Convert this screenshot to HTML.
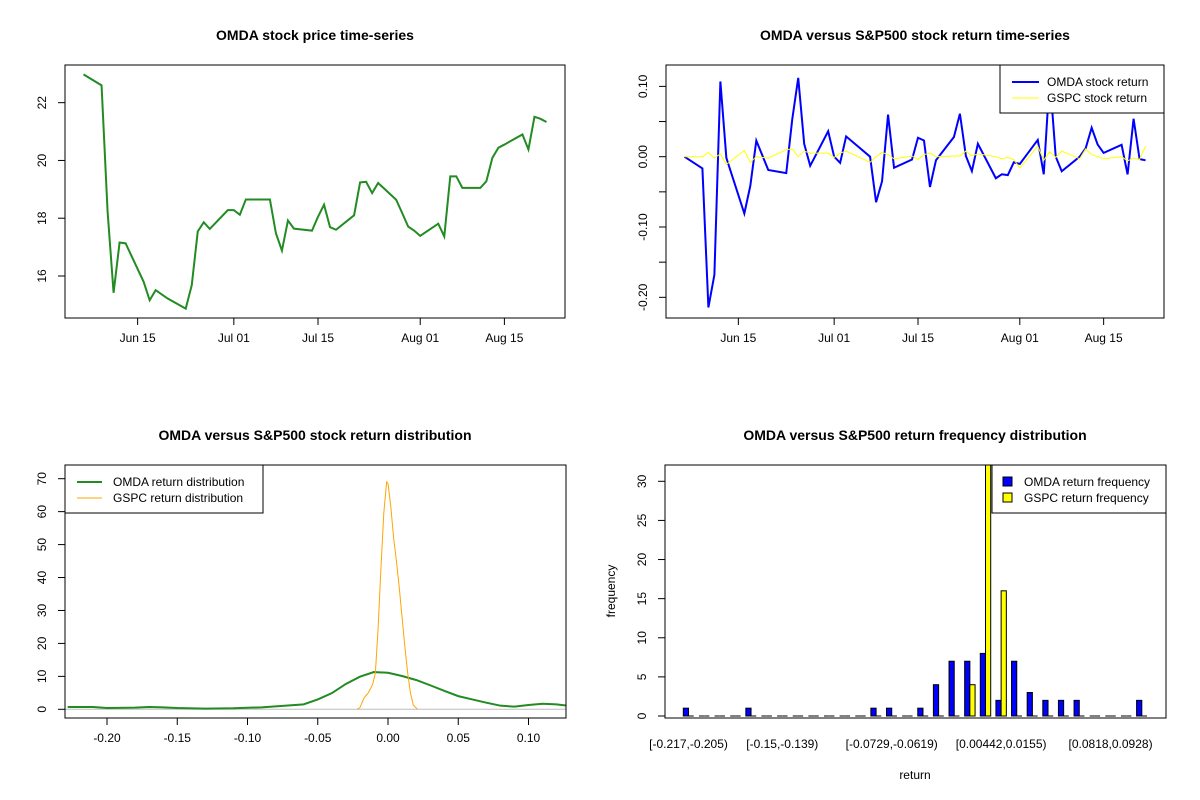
<!DOCTYPE html>
<html><head><meta charset="utf-8"><style>
body{margin:0;background:#fff;}
svg{display:block;font-family:"Liberation Sans",Arial,sans-serif;}
text{fill:#000;}
</style></head><body>
<svg id="chart" width="1200" height="800" viewBox="0 0 1200 800">
<defs>
<clipPath id="c1"><rect x="65" y="65" width="500" height="253"/></clipPath>
<clipPath id="c2"><rect x="666" y="65" width="498" height="253"/></clipPath>
<clipPath id="c3"><rect x="65" y="465" width="501" height="253"/></clipPath>
<clipPath id="c4"><rect x="665" y="465" width="501" height="253"/></clipPath>
</defs>
<rect width="1200" height="800" fill="#fff"/>
<text x="315" y="40" font-size="14" font-weight="bold" text-anchor="middle">OMDA stock price time-series</text>
<text x="915" y="40" font-size="14" font-weight="bold" text-anchor="middle">OMDA versus S&amp;P500 stock return time-series</text>
<text x="315" y="440" font-size="14" font-weight="bold" text-anchor="middle">OMDA versus S&amp;P500 stock return distribution</text>
<text x="915" y="440" font-size="14" font-weight="bold" text-anchor="middle">OMDA versus S&amp;P500 return frequency distribution</text>
<g id="g1"></g><g id="g2"></g><g id="g3"></g><g id="g4"></g>
</svg>
<script>
const dates = ["2025-06-06","2025-06-09","2025-06-10","2025-06-11","2025-06-12","2025-06-13","2025-06-16","2025-06-17","2025-06-18","2025-06-20","2025-06-23","2025-06-24","2025-06-25","2025-06-26","2025-06-27","2025-06-30","2025-07-01","2025-07-02","2025-07-03","2025-07-07","2025-07-08","2025-07-09","2025-07-10","2025-07-11","2025-07-14","2025-07-15","2025-07-16","2025-07-17","2025-07-18","2025-07-21","2025-07-22","2025-07-23","2025-07-24","2025-07-25","2025-07-28","2025-07-29","2025-07-30","2025-07-31","2025-08-01","2025-08-04","2025-08-05","2025-08-06","2025-08-07","2025-08-08","2025-08-11","2025-08-12","2025-08-13","2025-08-14","2025-08-15","2025-08-18","2025-08-19","2025-08-20","2025-08-21","2025-08-22"];
const omdaPrice = [22.98,22.60,18.24,15.42,17.16,17.13,15.80,15.16,15.51,15.22,14.87,15.68,17.54,17.86,17.63,18.28,18.28,18.12,18.65,18.65,17.48,16.88,17.92,17.64,17.57,18.05,18.47,17.69,17.60,18.10,19.24,19.26,18.87,19.22,18.64,18.18,17.71,17.57,17.39,17.81,17.37,19.45,19.45,19.05,19.05,19.28,20.09,20.44,20.55,20.90,20.38,21.51,21.44,21.33];
const gspcRet = [0,0,0.006,-0.002,0.004,-0.011,0.009,-0.008,0,-0.002,0.01,0.011,0,0.008,0.005,0.005,-0.001,0.005,0.008,-0.008,0,0.006,0.003,-0.003,0.001,-0.004,0.003,0.005,0,0.001,0.001,0.008,0.001,0.004,0,-0.003,-0.001,-0.004,-0.016,0.015,-0.005,0.007,-0.001,0.008,-0.003,0.011,0.003,0,-0.003,0,-0.006,-0.002,-0.004,0.015];
const priceTicks = [16,18,20,22];
const dateTickDates = ["2025-06-15","2025-07-01","2025-07-15","2025-08-01","2025-08-15"];
const dateTickLabels = ["Jun 15","Jul 01","Jul 15","Aug 01","Aug 15"];
const retTicks = [-0.2,-0.15,-0.1,-0.05,0,0.05,0.1];
const retTickLabels = ["-0.20","","-0.10","","0.00","","0.10"];
const densX = [-0.228,-0.21,-0.2,-0.18,-0.17,-0.16,-0.15,-0.13,-0.11,-0.09,-0.08,-0.07,-0.06,-0.05,-0.04,-0.03,-0.02,-0.01,0,0.01,0.02,0.03,0.04,0.05,0.06,0.07,0.08,0.09,0.10,0.11,0.12,0.128];
const omdaDens = [0.7,0.7,0.4,0.5,0.7,0.6,0.4,0.2,0.3,0.6,0.9,1.2,1.5,3.0,4.9,7.7,9.9,11.3,11.1,10.1,8.9,7.3,5.6,4.0,3.0,2.0,1.1,0.8,1.3,1.7,1.5,1.1];
const gspcDensX = [-0.022,-0.02,-0.017,-0.014,-0.011,-0.009,-0.007,-0.005,-0.003,-0.001,0,0.002,0.004,0.006,0.008,0.01,0.012,0.014,0.016,0.018,0.021];
const gspcDens = [0,0.5,3.5,5.0,7.5,11,25,43,59.5,69,68.6,61.5,52,45,37,28,19,11,4.9,1.3,0];
const densXTicks = [-0.2,-0.15,-0.1,-0.05,0,0.05,0.1];
const densYTicks = [0,10,20,30,40,50,60,70];
const binLabels = ["[-0.217,-0.205)","[-0.205,-0.194)","[-0.194,-0.183)","[-0.183,-0.172)","[-0.172,-0.161)","[-0.161,-0.15)","[-0.15,-0.139)","[-0.139,-0.128)","[-0.128,-0.117)","[-0.117,-0.106)","[-0.106,-0.095)","[-0.095,-0.084)","[-0.084,-0.0729)","[-0.0729,-0.0619)","[-0.0619,-0.0508)","[-0.0508,-0.0398)","[-0.0398,-0.0288)","[-0.0288,-0.0177)","[-0.0177,-0.00666)","[-0.00666,0.00442)","[0.00442,0.0155)","[0.0155,0.0265)","[0.0265,0.0376)","[0.0376,0.0486)","[0.0486,0.0597)","[0.0597,0.0707)","[0.0707,0.0818)","[0.0818,0.0928)","[0.0928,0.104)","[0.104,0.115)"];
const shownBinLabels = [0,6,13,20,27];
const omdaFreq = [1,0,0,0,1,0,0,0,0,0,0,0,1,1,0,1,4,7,7,8,2,7,3,2,2,2,0,0,0,2];
const gspcFreq = [0,0,0,0,0,0,0,0,0,0,0,0,0,0,0,0,0,0,4,33,16,0,0,0,0,0,0,0,0,0];
const freqTicks = [0,5,10,15,20,25,30];

const NS="http://www.w3.org/2000/svg";
function mk(parent,tag,attrs,txt){const e=document.createElementNS(NS,tag);for(const k in attrs)e.setAttribute(k,attrs[k]);if(txt!==undefined)e.textContent=txt;parent.appendChild(e);return e;}
const day = s => Date.parse(s)/86400000;
const omdaRet = omdaPrice.map((p,i)=> i===0?0:Math.log(p/omdaPrice[i-1]));
function lin(d0,d1,r0,r1){return v=>r0+(v-d0)/(d1-d0)*(r1-r0);}
function pad(a){const mn=Math.min(...a),mx=Math.max(...a),p=(mx-mn)*0.04;return [mn-p,mx+p];}
function pts(xs,ys,fx,fy){return xs.map((x,i)=>fx(x).toFixed(2)+","+fy(ys[i]).toFixed(2)).join(" ");}
function box(g,x0,y0,x1,y1,n){const b=mk(g,"rect",{x:x0,y:y0,width:x1-x0,height:y1-y0,fill:"none",stroke:"#000","stroke-width":1});}
function xAxis(g,vals,labels,fx,yb,n){
  const ax=mk(g,"g",{});
  const xs=vals.map(fx);
  mk(ax,"line",{x1:xs[0],x2:xs[xs.length-1],y1:yb,y2:yb,stroke:"#000"});
  xs.forEach((x,i)=>{mk(ax,"line",{x1:x,x2:x,y1:yb,y2:yb+7,stroke:"#000"});
    if(labels[i]){const t=mk(ax,"text",{x:x,y:yb+24,"font-size":12,"text-anchor":"middle"},labels[i]);}});
}
function yAxis(g,vals,labels,fy,xl,n){
  const ax=mk(g,"g",{});
  const ys=vals.map(fy);
  mk(ax,"line",{x1:xl,x2:xl,y1:ys[0],y2:ys[ys.length-1],stroke:"#000"});
  ys.forEach((y,i)=>{mk(ax,"line",{x1:xl,x2:xl-7,y1:y,y2:y,stroke:"#000"});
    if(labels[i]){const t=mk(ax,"text",{x:xl-19,y:y,"font-size":12,"text-anchor":"middle",transform:`rotate(-90 ${xl-19} ${y})`},labels[i]);}});
}

(function(){
const g=document.getElementById("g1");
const dd=dates.map(day);const xr=pad(dd);const yr=pad(omdaPrice);
const fx=lin(xr[0],xr[1],65,565),fy=lin(yr[0],yr[1],318,65);
const l=mk(g,"polyline",{points:pts(dd,omdaPrice,fx,fy),fill:"none",stroke:"#228B22","stroke-width":2,"clip-path":"url(#c1)"});

box(g,65,65,565,318,'price-plot-box');
xAxis(g,dateTickDates.map(day),dateTickLabels,fx,318,'price-x-axis');
yAxis(g,priceTicks,priceTicks.map(String),fy,65,'price-y-axis');
})();

(function(){
const g=document.getElementById("g2");
const dd=dates.map(day);const xr=pad(dd);
const fx=lin(xr[0],xr[1],666,1164),fy=lin(-0.2294,0.1304,318,65);
const l=mk(g,"polyline",{points:pts(dd,omdaRet,fx,fy),fill:"none",stroke:"#0000FF","stroke-width":2,"clip-path":"url(#c2)"});

const l2=mk(g,"polyline",{points:pts(dd,gspcRet,fx,fy),fill:"none",stroke:"#FFFF00","stroke-width":1,"clip-path":"url(#c2)"});

box(g,666,65,1164,318,'return-plot-box');
xAxis(g,dateTickDates.map(day),dateTickLabels,fx,318,'return-x-axis');
yAxis(g,retTicks,retTickLabels,fy,666,'return-y-axis');
const lg=mk(g,"g",{});
mk(lg,"rect",{x:1000,y:65,width:164,height:48,fill:"#fff",stroke:"#000"});
mk(lg,"line",{x1:1012,x2:1039,y1:82,y2:82,stroke:"#0000FF","stroke-width":2});
mk(lg,"line",{x1:1012,x2:1039,y1:98,y2:98,stroke:"#FFFF00","stroke-width":1});
mk(lg,"text",{x:1047,y:86,"font-size":12},"OMDA stock return");
mk(lg,"text",{x:1047,y:102,"font-size":12},"GSPC stock return");
})();

(function(){
const g=document.getElementById("g3");
const fx=lin(0,0.1,388,528.5),fy=lin(0,70,709.3,478.7);
const z=mk(g,"line",{x1:65,x2:566,y1:fy(0),y2:fy(0),stroke:"#bebebe"});

const l=mk(g,"polyline",{points:pts(densX,omdaDens,fx,fy),fill:"none",stroke:"#228B22","stroke-width":2,"clip-path":"url(#c3)"});

const l2=mk(g,"polyline",{points:pts(gspcDensX,gspcDens,fx,fy),fill:"none",stroke:"#FFA500","stroke-width":1,"clip-path":"url(#c3)"});

box(g,65,465,566,718,'density-plot-box');
xAxis(g,densXTicks,densXTicks.map(v=>v.toFixed(2)),fx,718,'density-x-axis');
yAxis(g,densYTicks,densYTicks.map(String),fy,65,'density-y-axis');
const lg=mk(g,"g",{});
mk(lg,"rect",{x:65,y:465,width:198,height:48,fill:"#fff",stroke:"#000"});
mk(lg,"line",{x1:77,x2:102,y1:482,y2:482,stroke:"#228B22","stroke-width":2});
mk(lg,"line",{x1:77,x2:102,y1:498,y2:498,stroke:"#FFA500","stroke-width":1});
mk(lg,"text",{x:113,y:486,"font-size":12},"OMDA return distribution");
mk(lg,"text",{x:113,y:502,"font-size":12},"GSPC return distribution");
})();

(function(){
const g=document.getElementById("g4");
const fx=lin(0,89,678.1,1141.8),fy=lin(0,30,716,481.3);
const bars=mk(g,"g",{"clip-path":"url(#c4)"});
function bar(u,v,color,name){
  if(v===0){
    const ln=mk(bars,"line",{x1:fx(u),x2:fx(u+1),y1:fy(0),y2:fy(0),stroke:"#000","stroke-width":1});
    
    
  } else {
    const r=mk(bars,"rect",{x:fx(u),y:fy(v),width:fx(u+1)-fx(u),height:fy(0)-fy(v),fill:color,stroke:"#000","stroke-width":1});
    
    
  }
}
binLabels.forEach((lab,i)=>{
  const u=i*3+1;
  bar(u,omdaFreq[i],"#0000FF",'omda-bar');
  bar(u+1,gspcFreq[i],"#FFFF00",'gspc-bar');
});
box(g,665,465,1166,718,'histogram-plot-box');
shownBinLabels.forEach(i=>{const t=mk(g,"text",{x:fx(i*3+2),y:748,"font-size":12,"text-anchor":"middle"},binLabels[i]);});
yAxis(g,freqTicks,freqTicks.map(String),fy,665,'frequency-y-axis');
const yt=mk(g,"text",{x:615,y:591,"font-size":12,"text-anchor":"middle",transform:"rotate(-90 615 591)"},"frequency");

const xt=mk(g,"text",{x:915,y:779,"font-size":12,"text-anchor":"middle"},"return");

const lg=mk(g,"g",{});
mk(lg,"rect",{x:992,y:465,width:174,height:48,fill:"#fff",stroke:"#000"});
mk(lg,"rect",{x:1003,y:477,width:9,height:9,fill:"#0000FF",stroke:"#000"});
mk(lg,"rect",{x:1003,y:493,width:9,height:9,fill:"#FFFF00",stroke:"#000"});
mk(lg,"text",{x:1024,y:486,"font-size":12},"OMDA return frequency");
mk(lg,"text",{x:1024,y:502,"font-size":12},"GSPC return frequency");
})();
</script>
</body></html>
